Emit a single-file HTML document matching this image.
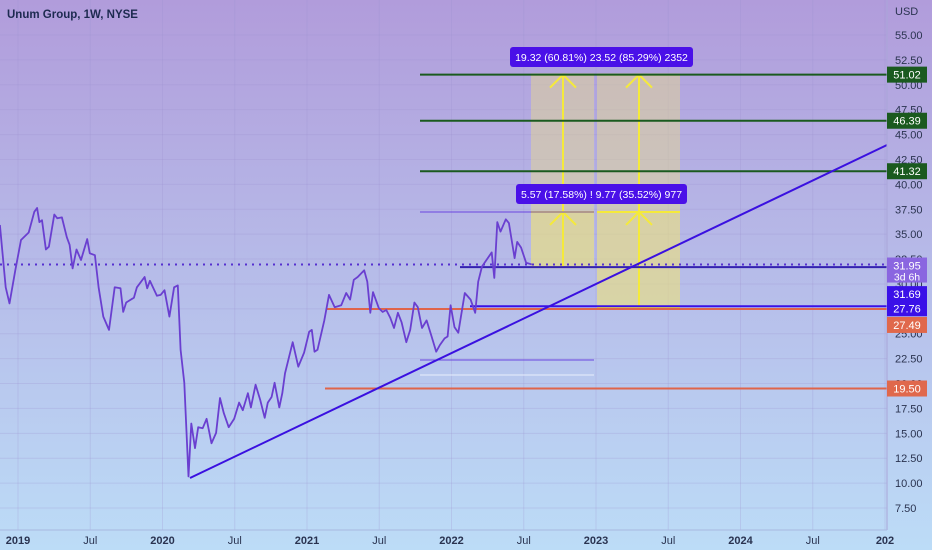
<!DOCTYPE html>
<html><head><meta charset="utf-8">
<style>
html,body{margin:0;padding:0;width:932px;height:550px;overflow:hidden;font-family:"Liberation Sans",sans-serif;}
svg{display:block}
</style></head><body>
<svg id="chart" width="932" height="550">
<defs>
<linearGradient id="bg" x1="0" y1="0" x2="0" y2="1">
<stop offset="0" stop-color="#b19cdb"/><stop offset="1" stop-color="#bcdcf7"/>
</linearGradient>
</defs>
<rect width="932" height="550" fill="url(#bg)"/>
<g id="grid"></g>
<g id="draw"></g>
<g id="series"></g>
<g id="axes"></g>
<text x="7" y="18" font-size="11.5" font-weight="bold" fill="#1d2a50">Unum Group, 1W, NYSE</text>
</svg>
<script>
const times=[2018.875,2018.915,2018.941,2018.981,2019.021,2019.074,2019.113,2019.132,2019.148,2019.166,2019.193,2019.214,2019.251,2019.272,2019.304,2019.338,2019.357,2019.378,2019.405,2019.436,2019.479,2019.497,2019.532,2019.558,2019.590,2019.630,2019.669,2019.709,2019.728,2019.749,2019.802,2019.823,2019.876,2019.894,2019.913,2019.961,2019.987,2020.014,2020.048,2020.080,2020.106,2020.125,2020.151,2020.180,2020.199,2020.225,2020.247,2020.278,2020.305,2020.339,2020.371,2020.398,2020.424,2020.458,2020.496,2020.530,2020.556,2020.591,2020.612,2020.644,2020.676,2020.707,2020.729,2020.755,2020.776,2020.808,2020.829,2020.848,2020.901,2020.940,2020.980,2021.015,2021.033,2021.052,2021.073,2021.120,2021.152,2021.192,2021.237,2021.271,2021.298,2021.324,2021.351,2021.396,2021.417,2021.438,2021.457,2021.497,2021.523,2021.549,2021.576,2021.602,2021.629,2021.655,2021.687,2021.714,2021.743,2021.767,2021.796,2021.828,2021.862,2021.894,2021.920,2021.952,2021.973,2021.994,2022.021,2022.047,2022.092,2022.132,2022.164,2022.185,2022.211,2022.278,2022.296,2022.317,2022.339,2022.376,2022.397,2022.437,2022.455,2022.482,2022.516,2022.556];
const closes=[35.92,29.66,28.05,31.37,34.41,35.17,37.25,37.63,36.21,36.40,33.46,33.74,36.97,36.59,36.68,34.69,33.93,31.56,33.46,32.41,34.50,33.08,32.89,29.66,26.72,25.39,29.66,29.56,27.19,28.14,28.62,29.66,30.70,29.56,30.32,28.81,28.90,29.37,26.72,29.66,29.85,23.39,20.07,10.67,15.99,13.52,15.61,15.51,16.46,14.00,15.04,18.55,17.03,15.61,16.46,18.08,17.32,19.03,17.60,19.88,18.36,16.56,18.08,18.65,20.07,17.60,19.03,21.02,24.15,21.69,23.11,25.20,25.39,23.20,23.39,26.34,28.90,27.67,27.86,29.09,28.43,30.42,30.70,31.37,30.23,27.10,29.18,27.57,27.19,27.38,26.62,25.58,27.10,26.15,24.15,25.39,28.14,27.67,25.58,26.34,24.72,23.20,23.87,24.53,24.72,27.86,25.67,25.10,29.09,28.43,27.10,30.23,31.75,33.17,30.61,36.21,35.26,36.49,36.11,32.60,34.22,33.65,32.13,31.95];
const priceTicks=[55,52.5,50,47.5,45,42.5,40,37.5,35,32.5,30,27.5,25,22.5,20,17.5,15,12.5,10,7.5];
const timeTicks=[2019,2019.5,2020,2020.5,2021,2021.5,2022,2022.5,2023,2023.5,2024,2024.5,2025];
const timeLabels=["2019","Jul","2020","Jul","2021","Jul","2022","Jul","2023","Jul","2024","Jul","202"];
const targetLevels=[51.02,46.39,41.32];
const NS="http://www.w3.org/2000/svg";
const PR=887;
function y(v){return 35+(55-v)*9.958;}
function x(t){return 18+(t-2019)*144.5;}
function mk(parent,tag,attrs,name,inter){const e=document.createElementNS(NS,tag);for(const k in attrs)e.setAttribute(k,attrs[k]);


document.getElementById(parent).appendChild(e);return e;}
// grid
priceTicks.forEach(v=>mk('grid','line',{x1:0,x2:PR,y1:y(v),y2:y(v),stroke:'#9a8fd0',"stroke-opacity":0.25},'grid-line-h'));
timeTicks.forEach(t=>mk('grid','line',{x1:x(t),x2:x(t),y1:0,y2:530,stroke:'#9a8fd0',"stroke-opacity":0.25},'grid-line-v'));
// drawings
const yTop=y(51.02), yMid=y(37.23), yL=y(31.69), yR=y(27.6);
mk('draw','rect',{x:531,y:yTop,width:63,height:yL-yTop,fill:'#e8dc8a',"fill-opacity":0.45},'projection-box-1');
mk('draw','rect',{x:597,y:yTop,width:83,height:yR-yTop,fill:'#e8dc8a',"fill-opacity":0.45},'projection-box-2');
mk('draw','rect',{x:531,y:yMid,width:63,height:yL-yMid,fill:'#f2e870',"fill-opacity":0.35},'projection-box-1-inner');
mk('draw','rect',{x:597,y:yMid,width:83,height:yR-yMid,fill:'#f2e870',"fill-opacity":0.3},'projection-box-2-inner');
[[531,594,yTop],[597,680,yTop],[531,594,yMid],[597,680,yMid],[531,594,yL],[597,680,yR]].forEach(a=>mk('draw','line',{x1:a[0],x2:a[1],y1:a[2],y2:a[2],stroke:'#f5ea3a','stroke-width':2},'projection-edge'));
[[563,yL],[639,yR]].forEach(a=>{mk('draw','line',{x1:a[0],x2:a[0],y1:a[1],y2:yTop,stroke:'#f5ea3a','stroke-width':2},'projection-arrow');
[yTop,yMid].forEach(v=>mk('draw','path',{d:`M${a[0]-13} ${v+13}L${a[0]} ${v}L${a[0]+13} ${v+13}`,fill:'none',stroke:'#f5ea3a','stroke-width':2},'arrow-head'));});
mk('draw','line',{x1:420,x2:594,y1:212,y2:212,stroke:'#6a45e0','stroke-width':1},'range-line-top');
mk('draw','line',{x1:420,x2:594,y1:360,y2:360,stroke:'#6a45e0','stroke-width':1},'range-line-bottom');
mk('draw','line',{x1:420,x2:594,y1:375,y2:375,stroke:'#e8eefc','stroke-width':1},'range-line-white');
targetLevels.forEach(v=>mk('draw','line',{x1:420,x2:PR,y1:y(v),y2:y(v),stroke:'#1a5a1f','stroke-width':2},'target-line'));
mk('draw','line',{x1:0,x2:PR,y1:y(31.95),y2:y(31.95),stroke:'#5530d0','stroke-width':2,'stroke-dasharray':'2 5'},'last-price-line');
mk('draw','line',{x1:460,x2:PR,y1:y(31.69),y2:y(31.69),stroke:'#3322b0','stroke-width':2},'support-31-69');
mk('draw','line',{x1:327,x2:PR,y1:y(27.49),y2:y(27.49),stroke:'#e0644a','stroke-width':2},'support-27-49');
mk('draw','line',{x1:470,x2:PR,y1:y(27.76),y2:y(27.76),stroke:'#3a10e8','stroke-width':2},'support-27-76');
mk('draw','line',{x1:325,x2:PR,y1:y(19.5),y2:y(19.5),stroke:'#e0644a','stroke-width':2},'support-19-50');
mk('draw','line',{x1:190,y1:478,x2:PR,y2:145,stroke:'#3a10e0','stroke-width':2},'trend-line');
// series
let d=times.map((t,i)=>(i?'L':'M')+x(t).toFixed(1)+' '+y(closes[i]).toFixed(1)).join('');
mk('series','path',{d:d,fill:'none',stroke:'#6a3fd0','stroke-width':1.8,'stroke-linejoin':'round'},'price-line',true);
// labels
function lab(x0,y0,w,txt,name){mk('draw','rect',{x:x0,y:y0,width:w,height:20,rx:3,fill:'#4a10e8'},name+'-bg');
const t=mk('draw','text',{x:x0+w/2,y:y0+14,'text-anchor':'middle','font-size':10.5,fill:'#fff'},name);t.textContent=txt;}
lab(510,47,183,'19.32 (60.81%) 23.52 (85.29%) 2352','projection-label-top');
lab(516,184,171,'5.57 (17.58%) ! 9.77 (35.52%) 977','projection-label-mid');
// axes
mk('axes','line',{x1:PR,x2:PR,y1:0,y2:530,stroke:'#a9a5d8'},'price-axis-border');
mk('axes','line',{x1:0,x2:PR,y1:530,y2:530,stroke:'#a9b8e0'},'time-axis-border');
let t0=mk('axes','text',{x:895,y:15,'font-size':11,fill:'#2a3350'},'currency-label');t0.textContent='USD';
priceTicks.forEach(v=>{const t=mk('axes','text',{x:895,y:y(v)+4,'font-size':11,fill:'#2a3350'},'price-tick');t.textContent=v.toFixed(2);});
timeTicks.forEach((tt,i)=>{const t=mk('axes','text',{x:x(tt),y:544,'font-size':11,'text-anchor':'middle',fill:'#2a3350','font-weight':timeLabels[i]==='Jul'?'normal':'bold'},'time-tick');t.textContent=timeLabels[i];});
function tag(yy,txt,bg,name,h){mk('axes','rect',{x:PR,y:yy,width:40,height:h||16,fill:bg},name+'-bg');
const t=mk('axes','text',{x:PR+20,y:yy+12,'text-anchor':'middle','font-size':11,fill:'#fff'},name);t.textContent=txt;}
tag(y(51.02)-8,'51.02','#1a5a1f','tag-51-02');
tag(y(46.39)-8,'46.39','#1a5a1f','tag-46-39');
tag(y(41.32)-8,'41.32','#1a5a1f','tag-41-32');
tag(y(31.95)-7,'31.95','#8a66e0','tag-31-95',25);
let cd=mk('axes','text',{x:PR+20,y:y(31.95)+16,'text-anchor':'middle','font-size':10.5,fill:'#fff'},'countdown');cd.textContent='3d 6h';
tag(y(31.69)+19,'31.69','#3a10e8','tag-31-69');
tag(y(27.76)-6,'27.76','#3a10e8','tag-27-76');
tag(y(27.49)+8,'27.49','#e0684c','tag-27-49');
tag(y(19.5)-8,'19.50','#e0684c','tag-19-50');
</script>
</body></html>
